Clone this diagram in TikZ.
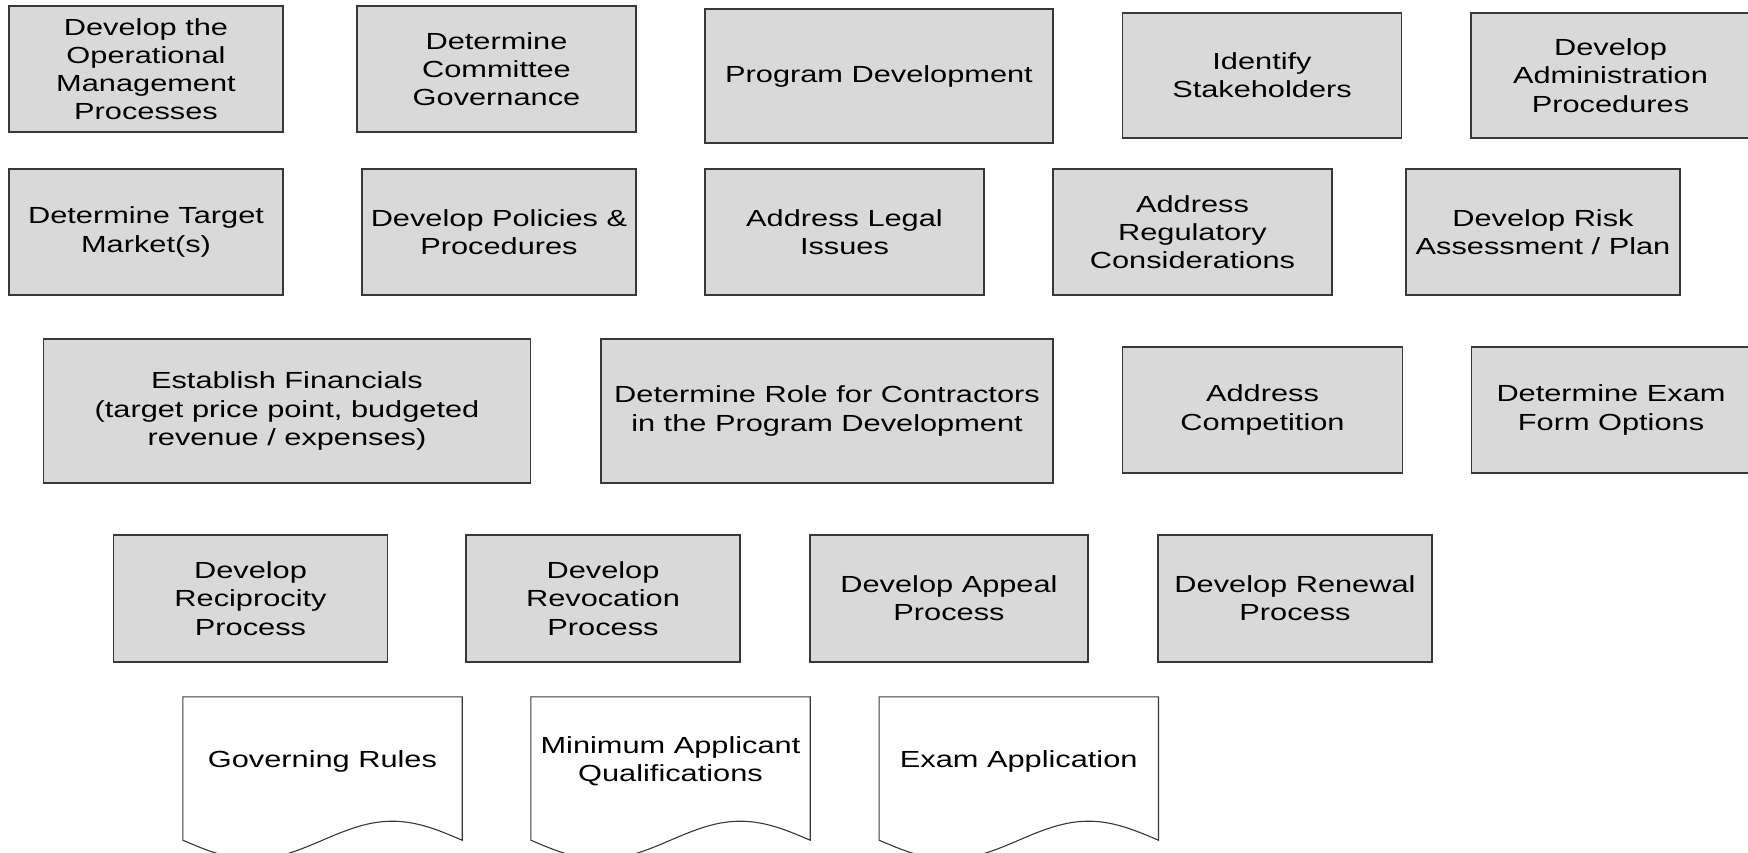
\documentclass[tikz,border=0pt]{standalone}
\usepackage{fontspec}
\setmainfont[FakeStretch=1.32]{Liberation Sans}
\usetikzlibrary{calc}
\definecolor{boxfill}{HTML}{D9D9D9}
\definecolor{boxline}{HTML}{383838}
\tikzset{
  lbl/.style={font=\fontsize{23.3}{28.2}\selectfont, align=center, inner sep=0pt, text=black},
  box/.style={lbl, draw=boxline, fill=boxfill, line width=1.3pt},
  docnode/.style={lbl, minimum width=279pt, minimum height=123pt},
  docline/.style={draw=boxline, fill=white, line width=1.1pt},
}
\newcommand\docbody[1]{%
  \path[docline] (#1.north west) -- (#1.north east) -- ($(#1.south east)+(0,20)$)
    sin ($(#1.south east)!0.25!(#1.south west)+(0,1)$)
    cos ($(#1.south east)!0.5!(#1.south west)+(0,20)$)
    sin ($(#1.south east)!0.75!(#1.south west)+(0,39)$)
    cos ($(#1.south west)+(0,20)$) -- cycle;}
\begin{document}
\begin{tikzpicture}[x=1pt,y=-1pt]
\useasboundingbox (0,0) rectangle (1748,853);
% row 1
\node[box, minimum width=274pt, minimum height=126pt] (a) at (146,69) {Develop the\\Operational\\Management\\Processes};
\node[box, minimum width=279pt, minimum height=126pt] (b) at (496.5,69) {Determine\\Committee\\Governance};
\node[box, minimum width=348pt, minimum height=134pt] (c) at (879,76) {Program Development};
\node[box, minimum width=279.5pt, minimum height=125pt] (d) at (1262,75.5) {Identify\\Stakeholders};
\node[box, minimum width=279pt, minimum height=125pt] (e) at (1610.5,75.5) {Develop\\Administration\\Procedures};
% row 2
\node[box, minimum width=274pt, minimum height=126pt] (f) at (146,232) {Determine Target\\Market(s)};
\node[box, minimum width=274pt, minimum height=126pt] (g) at (499,232) {Develop Policies \&\\Procedures};
\node[box, minimum width=279pt, minimum height=126pt] (h) at (844.5,232) {Address Legal\\Issues};
\node[box, minimum width=279pt, minimum height=126pt] (i) at (1192.5,232) {Address\\Regulatory\\Considerations};
\node[box, minimum width=274pt, minimum height=126pt] (j) at (1543,232) {Develop Risk\\Assessment / Plan};
% row 3
\node[box, minimum width=487pt, minimum height=144pt] (k) at (287,411) {Establish Financials\\(target price point, budgeted\\revenue / expenses)};
\node[box, minimum width=452pt, minimum height=144pt] (l) at (827,411) {Determine Role for Contractors\\in the Program Development};
\node[box, minimum width=280pt, minimum height=126pt] (m) at (1262.5,410) {Address\\Competition};
\node[box, minimum width=279pt, minimum height=126pt] (n) at (1611,410) {Determine Exam\\Form Options};
% row 4
\node[box, minimum width=274pt, minimum height=127pt] (o) at (250.5,598.5) {Develop\\Reciprocity\\Process};
\node[box, minimum width=274pt, minimum height=127pt] (p) at (603,598.5) {Develop\\Revocation\\Process};
\node[box, minimum width=278pt, minimum height=127pt] (q) at (949,598.5) {Develop Appeal\\Process};
\node[box, minimum width=274pt, minimum height=127pt] (r) at (1295,598.5) {Develop Renewal\\Process};
% documents
\path (322.5,758.5) node[docnode] (s) {};
\path (670.5,758.5) node[docnode] (t) {};
\path (1018.75,758.5) node[docnode] (u) {};
\docbody{s}\docbody{t}\docbody{u}
\node[lbl] (s-text) at ($(s.center)+(0,3)$) {Governing Rules};
\node[lbl] (t-text) at ($(t.center)+(0,3)$) {Minimum Applicant\\Qualifications};
\node[lbl] (u-text) at ($(u.center)+(0,3)$) {Exam Application};
\end{tikzpicture}
\end{document}
